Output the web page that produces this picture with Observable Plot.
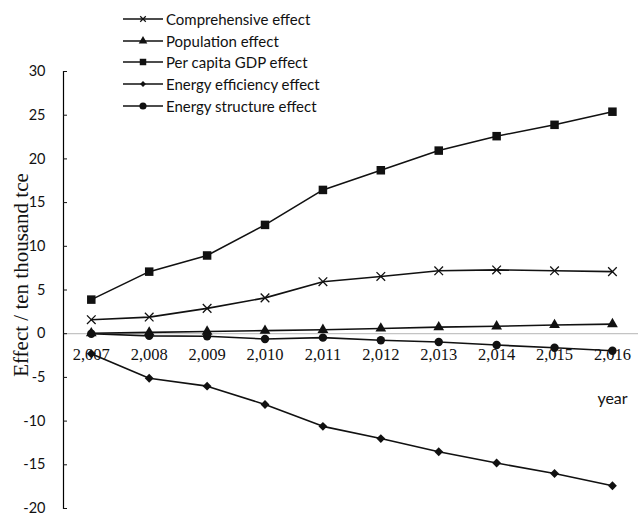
<!DOCTYPE html>
<html>
<head>
<meta charset="utf-8">
<script src="https://cdn.jsdelivr.net/npm/d3@7"></script>
<script src="https://cdn.jsdelivr.net/npm/@observablehq/plot@0.6"></script>
<style>
  html, body { margin: 0; padding: 0; background: #fff; }
  #wrap { position: relative; width: 638px; height: 515px; }
  #legend { position: absolute; left: 123px; top: 8px; font-family: Lato, "Open Sans", sans-serif; font-size: 15px; color: #111; }
  .row { display: flex; align-items: center; height: 21.7px; }
  .row svg { display: block; margin-right: 1px; }
</style>
</head>
<body>
<div id="wrap"><div id="legend"></div></div>
<script>
const years = [2007, 2008, 2009, 2010, 2011, 2012, 2013, 2014, 2015, 2016];
const yearLabels = ["2,007", "2,008", "2,009", "2,010", "2,011", "2,012", "2,013", "2,014", "2,015", "2,016"];
const seriesNames = ["Comprehensive effect", "Population effect", "Per capita GDP effect", "Energy efficiency effect", "Energy structure effect"];
const comprehensive = [1.6, 1.9, 2.9, 4.1, 5.95, 6.55, 7.2, 7.3, 7.2, 7.1];
const population = [0.05, 0.15, 0.25, 0.35, 0.45, 0.6, 0.75, 0.85, 1.0, 1.1];
const perCapitaGDP = [3.9, 7.1, 8.95, 12.45, 16.45, 18.7, 20.95, 22.6, 23.9, 25.4];
const energyEfficiency = [-2.3, -5.1, -6.0, -8.1, -10.6, -12.0, -13.5, -14.8, -16.0, -17.4];
const energyStructure = [0, -0.25, -0.3, -0.6, -0.45, -0.75, -0.95, -1.3, -1.6, -1.95];
const yTicks = [30, 25, 20, 15, 10, 5, 0, -5, -10, -15, -20];
const xTitle = "year";
const yTitle = "Effect / ten thousand tce";

const seriesValues = [comprehensive, population, perCapitaGDP, energyEfficiency, energyStructure];
const symbols = ["times", "triangle", "square", "diamond2", "circle"];
const radii = [4, 4, 4.8, 4, 4.2];

const marks = [
  Plot.ruleY([0], {stroke: "#c4c4c4", strokeWidth: 1.3}),
  Plot.frame({anchor: "left", stroke: "#000", strokeWidth: 1.2}),
  Plot.axisY({ticks: yTicks, tickSize: -4, tickPadding: 22, label: null,
    tickFormat: d => (d < 0 ? "-" + Math.abs(d) : String(d)),
    fontFamily: "Lato, 'Open Sans', sans-serif", fontSize: 14.5, color: "#111"}),
  Plot.text(years, {x: d => d, y: () => 0, text: (d, i) => yearLabels[i], dy: 21,
    fontFamily: "'Liberation Serif', serif", fontSize: 16.5, fill: "#111"}),
  Plot.text([xTitle], {frameAnchor: "bottom-right", dx: -26, dy: -105, textAnchor: "middle",
    fontFamily: "Lato, 'Open Sans', sans-serif", fontSize: 16, fill: "#111"}),
  Plot.text([yTitle], {frameAnchor: "left", rotate: -90, dx: -36, dy: -15, textAnchor: "middle", lineAnchor: "bottom",
    fontFamily: "'Liberation Serif', serif", fontSize: 21, fill: "#111"})
];

seriesValues.forEach((vals, k) => {
  const pts = years.map((yr, i) => ({year: yr, value: vals[i]}));
  marks.push(Plot.line(pts, {x: "year", y: "value", stroke: "#111", strokeWidth: 1.6}));
});
seriesValues.forEach((vals, k) => {
  const pts = years.map((yr, i) => ({year: yr, value: vals[i]}));
  if (symbols[k] === "times") {
    marks.push(Plot.dot(pts, {x: "year", y: "value", symbol: "times", r: radii[k], stroke: "#111", strokeWidth: 1.3}));
  } else {
    marks.push(Plot.dot(pts, {x: "year", y: "value", symbol: symbols[k], r: radii[k], fill: "#111", stroke: "none"}));
  }
});

const chart = Plot.plot({
  width: 638, height: 515,
  marginLeft: 63, marginRight: 0, marginTop: 71, marginBottom: 7,
  x: {type: "linear", domain: [2006.52, 2016.45], axis: null},
  y: {domain: [-20, 30], axis: null},
  style: {background: "#fff"},
  marks
});
document.getElementById("wrap").prepend(chart);

// legend
const legend = d3.select("#legend");
const legendSym = {
  times: d3.symbol(d3.symbolTimes, 22),
  triangle: d3.symbol(d3.symbolTriangle, 32),
  square: d3.symbol(d3.symbolSquare, 42),
  diamond2: d3.symbol(d3.symbolDiamond2, 22),
  circle: d3.symbol(d3.symbolCircle, 40)
};
seriesNames.forEach((name, k) => {
  const row = legend.append("div").attr("class", "row");
  const svg = row.append("svg").attr("width", 42).attr("height", 14);
  svg.append("line").attr("x1", 0).attr("x2", 40).attr("y1", 7).attr("y2", 7)
    .attr("stroke", "#111").attr("stroke-width", 1.5);
  const p = svg.append("path").attr("transform", "translate(20,7)").attr("d", legendSym[symbols[k]]());
  if (symbols[k] === "times") p.attr("fill", "none").attr("stroke", "#111").attr("stroke-width", 1.2);
  else p.attr("fill", "#111");
  row.append("span").text(name);
});
</script>
</body>
</html>
